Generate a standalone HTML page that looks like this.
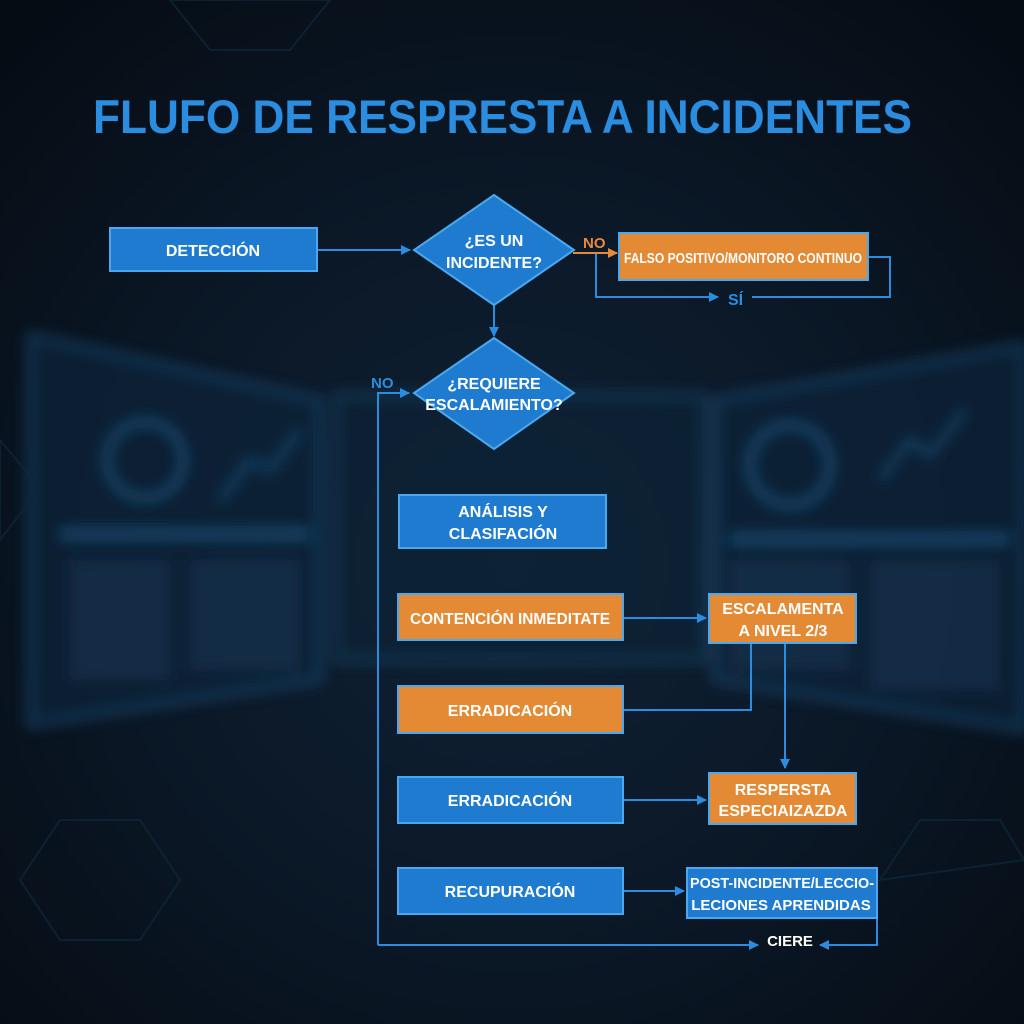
<!DOCTYPE html>
<html><head><meta charset="utf-8"><style>
html,body{margin:0;padding:0;background:#08111a;}
svg{display:block;}
text{font-family:"Liberation Sans",sans-serif;font-weight:bold;}
</style></head><body>
<svg width="1024" height="1024" viewBox="0 0 1024 1024" xmlns="http://www.w3.org/2000/svg">
<defs>
<radialGradient id="bg" cx="0.5" cy="0.55" r="0.7">
<stop offset="0" stop-color="#0f2236"/><stop offset="0.6" stop-color="#0a1624"/><stop offset="1" stop-color="#060c14"/>
</radialGradient>
<filter id="bl" x="-10%" y="-10%" width="120%" height="120%"><feGaussianBlur stdDeviation="7"/></filter>
<marker id="ab" markerWidth="10" markerHeight="10" refX="9" refY="5" orient="auto" markerUnits="userSpaceOnUse"><path d="M0,0 L10,5 L0,10 z" fill="#2a8de0"/></marker>
<marker id="ao" markerWidth="10" markerHeight="10" refX="9" refY="5" orient="auto" markerUnits="userSpaceOnUse"><path d="M0,0 L10,5 L0,10 z" fill="#e8893a"/></marker>
</defs>
<rect width="1024" height="1024" fill="url(#bg)"/>
<g filter="url(#bl)" opacity="0.75">
<polygon points="30,335 320,400 320,680 30,725" fill="#102438" stroke="#1c4a70" stroke-width="6"/>
<polygon points="335,395 705,395 705,660 335,660" fill="#0f2236" stroke="#1a4468" stroke-width="5"/>
<polygon points="715,400 1024,345 1024,730 715,680" fill="#102438" stroke="#1c4a70" stroke-width="6"/>
<circle cx="145" cy="460" r="38" fill="none" stroke="#1f5a88" stroke-width="6"/>
<circle cx="790" cy="465" r="40" fill="none" stroke="#1f5a88" stroke-width="6"/>
<rect x="60" y="530" width="250" height="8" fill="#1f5a88"/>
<rect x="730" y="535" width="280" height="8" fill="#1f5a88"/>
<polyline points="220,500 250,460 270,470 300,430" fill="none" stroke="#1f5a88" stroke-width="4"/>
<polyline points="880,480 910,440 930,455 965,410" fill="none" stroke="#1f5a88" stroke-width="4"/>
<rect x="70" y="560" width="100" height="120" fill="#123050"/>
<rect x="190" y="560" width="110" height="110" fill="#123050"/>
<rect x="730" y="560" width="120" height="110" fill="#123050"/>
<rect x="870" y="560" width="130" height="130" fill="#123050"/>
</g>
<g fill="none" stroke="#10283c" stroke-width="2" opacity="0.7">
<polygon points="0,440 40,488 0,540"/>
<polygon points="20,880 60,820 140,820 180,880 140,940 60,940"/>
<polygon points="880,880 920,820 1000,820 1024,860"/>
<polygon points="170,0 210,50 290,50 330,0"/>
</g>
<text x="93" y="133" font-size="47" fill="#2a8de0" textLength="819" lengthAdjust="spacingAndGlyphs">FLUFO DE RESPRESTA A INCIDENTES</text>

<g stroke-width="2" fill="none" stroke="#2a8de0">
<line x1="318" y1="250" x2="410" y2="250" marker-end="url(#ab)"/>
<polyline points="869,257 890,257 890,297 752,297"/>
<polyline points="596,253 596,297 718,297" marker-end="url(#ab)"/>
<line x1="494" y1="305" x2="494" y2="336" marker-end="url(#ab)"/>
<polyline points="378,945 378,393 409,393" marker-end="url(#ab)"/>
<line x1="378" y1="945" x2="758" y2="945" marker-end="url(#ab)"/>
<polyline points="877,918 877,945 820,945" marker-end="url(#ab)"/>
<line x1="623" y1="618" x2="706" y2="618" marker-end="url(#ab)"/>
<polyline points="623,710 751,710 751,643"/>
<line x1="785" y1="643" x2="785" y2="768" marker-end="url(#ab)"/>
<line x1="623" y1="800" x2="706" y2="800" marker-end="url(#ab)"/>
<line x1="623" y1="891" x2="684" y2="891" marker-end="url(#ab)"/>
</g>
<line x1="573" y1="253" x2="617" y2="253" stroke="#e8893a" stroke-width="2" marker-end="url(#ao)"/>

<g stroke="#4aa8f0" stroke-width="2">
<rect x="110" y="228" width="207" height="43" fill="#1f7bcf"/>
<polygon points="494,195 574,250 494,305 414,250" fill="#1f7bcf"/>
<polygon points="494,338 574,393 494,449 414,393" fill="#1f7bcf"/>
<rect x="399" y="495" width="207" height="53" fill="#1f7bcf"/>
<rect x="398" y="777" width="225" height="46" fill="#1f7bcf"/>
<rect x="398" y="868" width="225" height="46" fill="#1f7bcf"/>
<rect x="687" y="868" width="190" height="50" fill="#1f7bcf"/>
<rect x="619" y="233" width="249" height="47" fill="#e48934"/>
<rect x="398" y="594" width="225" height="46" fill="#e48934"/>
<rect x="709" y="594" width="147" height="49" fill="#e48934"/>
<rect x="398" y="686" width="225" height="47" fill="#e48934"/>
<rect x="709" y="773" width="147" height="51" fill="#e48934"/>
</g>

<g fill="#ffffff" font-size="16" text-anchor="middle">
<text x="213" y="256">DETECCIÓN</text>
<text x="494" y="246">¿ES UN</text>
<text x="494" y="268">INCIDENTE?</text>
<text x="494" y="389">¿REQUIERE</text>
<text x="494" y="410">ESCALAMIENTO?</text>
<text x="743" y="263" font-size="14.5" textLength="238" lengthAdjust="spacingAndGlyphs">FALSO POSITIVO/MONITORO CONTINUO</text>
<text x="503" y="517">ANÁLISIS Y</text>
<text x="503" y="539">CLASIFACIÓN</text>
<text x="510" y="624" textLength="200" lengthAdjust="spacingAndGlyphs">CONTENCIÓN INMEDITATE</text>
<text x="783" y="614">ESCALAMENTA</text>
<text x="783" y="636">A NIVEL 2/3</text>
<text x="510" y="716">ERRADICACIÓN</text>
<text x="510" y="806">ERRADICACIÓN</text>
<text x="783" y="795">RESPERSTA</text>
<text x="783" y="816">ESPECIAIZAZDA</text>
<text x="510" y="897">RECUPURACIÓN</text>
<text x="782" y="888" font-size="15" textLength="184" lengthAdjust="spacingAndGlyphs">POST-INCIDENTE/LECCIO-</text>
<text x="781" y="910" font-size="15">LECIONES APRENDIDAS</text>
<text x="790" y="946" font-size="15">CIERE</text>
</g>
<text x="583" y="248" font-size="15" fill="#e8893a">NO</text>
<text x="728" y="305" font-size="16" fill="#2a8de0">SÍ</text>
<text x="371" y="388" font-size="15" fill="#2a8de0">NO</text>
</svg>
</body></html>
